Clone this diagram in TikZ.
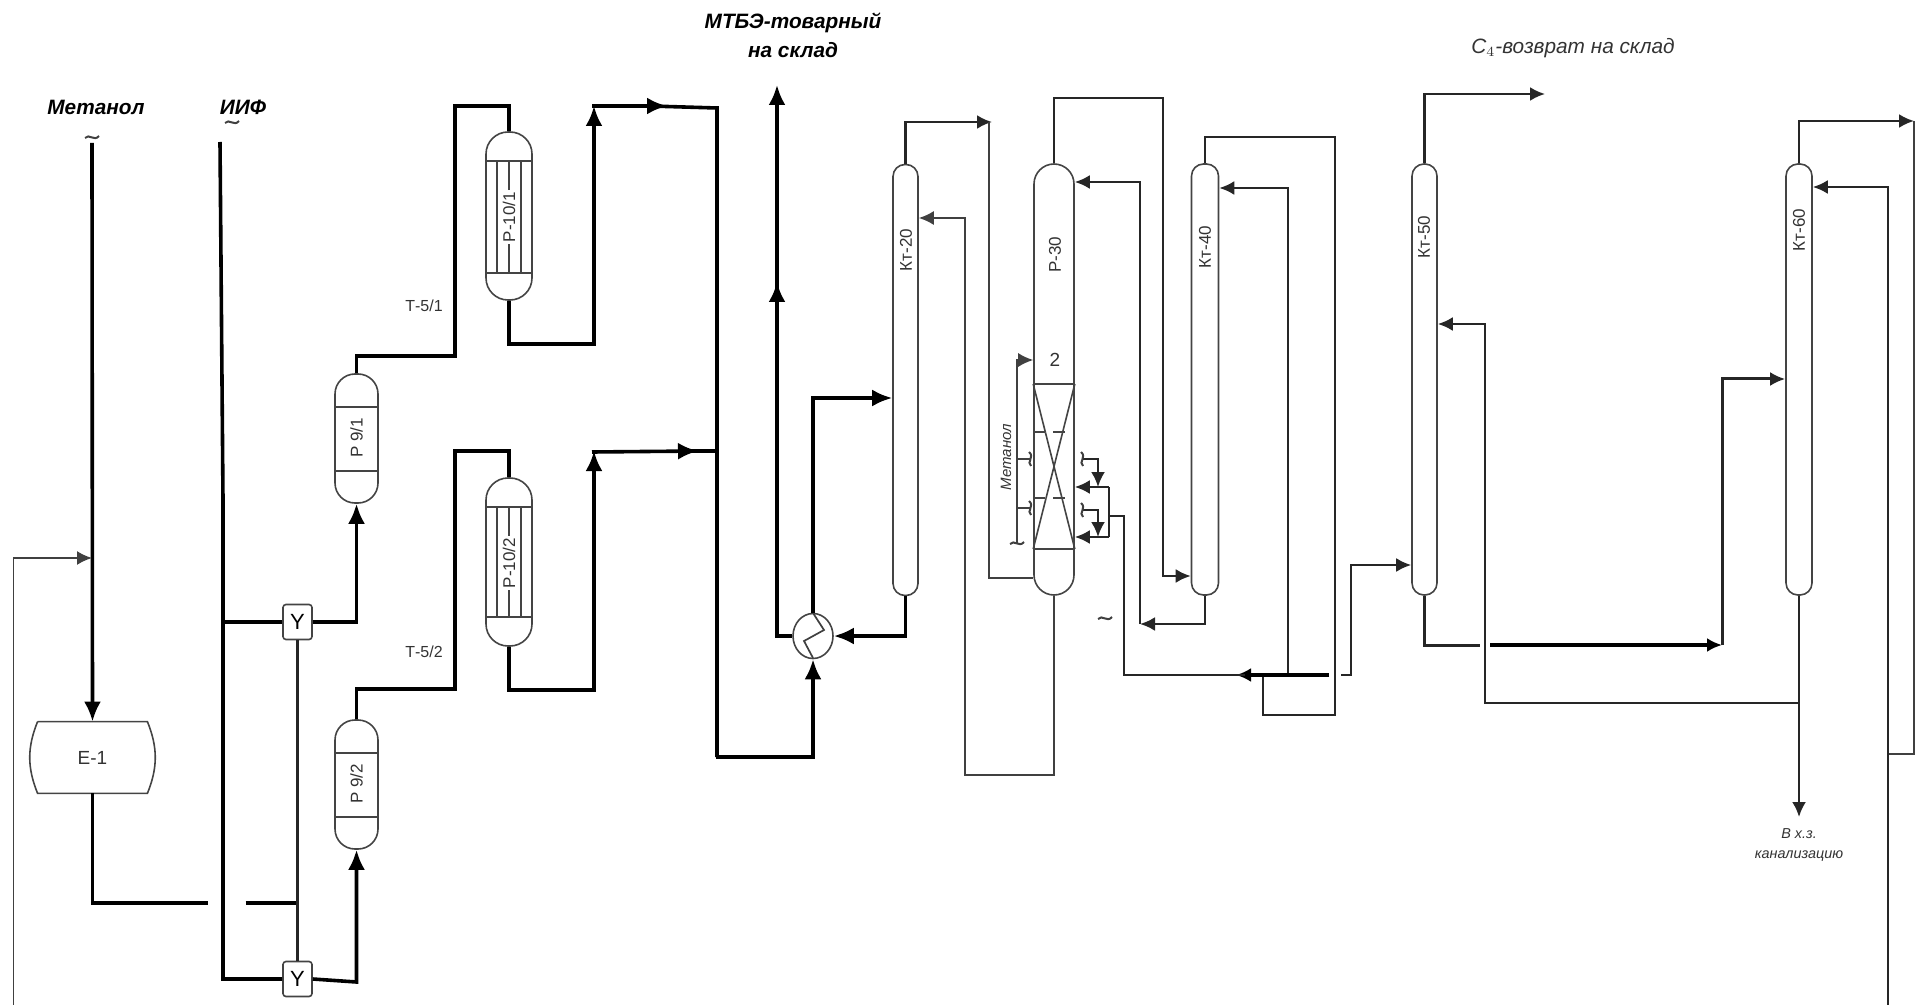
\documentclass[tikz,border=0pt]{standalone}
\usepackage{fontspec}
\setmainfont{Liberation Sans}
\usepackage{xcolor}
\usetikzlibrary{arrows.meta,shapes.geometric}
\definecolor{Ves}{HTML}{444444}
\definecolor{Tx}{HTML}{333333}
\begin{document}
\begin{tikzpicture}[
 x=0.5pt,y=-0.5pt,
 hv/.style={line width=1.8pt,draw=black},
 md/.style={line width=1.2pt,draw=black!85},
 tn/.style={line width=0.85pt,draw=black!75},
 ah/.style={-{Latex[length=10pt,width=8.5pt]}},
 am/.style={-{Latex[length=7.5pt,width=7pt]}},
 ves/.style={draw=Ves,line width=0.8pt,inner sep=0pt,fill=white},
 col/.style={ves,minimum width=#1,minimum height=215.5pt,rounded corners=6pt},
 reac/.style={ves,minimum width=21.5pt,minimum height=64.5pt,rounded corners=10pt},
 tube/.style={ves,minimum width=23pt,minimum height=84pt,rounded corners=11pt},
 valve/.style={ves,minimum width=14.5pt,minimum height=17.5pt,rounded corners=1.5pt,font=\fontsize{11}{13}\selectfont},
 lbl/.style={text=Tx,inner sep=0pt,font=\fontsize{8.5}{10}\selectfont},
 vlbl/.style={lbl,rotate=90},
 head/.style={inner sep=0pt,align=center,font=\fontsize{10.4}{14.5}\selectfont\bfseries\itshape},
 note/.style={text=Tx,inner sep=0pt,align=center,font=\fontsize{10.4}{13}\selectfont\itshape},
 sq/.pic={\draw[tn,line width=1pt] (-7,1) .. controls (-3,-4) and (2,5) .. (7,-1);}
]
\useasboundingbox (0,0) rectangle (1915,1005);
\node[head] (metlbl) at (96,107) {Метанол};
\node[head] (iiflbl) at (243,107) {ИИФ};
\node[head] (mtbelbl) at (793,35) {МТБЭ-товарный\\на склад};
\node[note] (c4lbl) at (1573,48) {С$_4$-возврат на склад};
\node[inner sep=0pt,align=center,text=Tx,font=\fontsize{7.2}{10}\selectfont\itshape] (drainlbl) at (1799,845) {В х.з.\\канализацию};
\node[lbl,font=\fontsize{8}{10}\selectfont] (t51) at (424,306) {Т-5/1};
\node[lbl,font=\fontsize{8}{10}\selectfont] (t52) at (424,652) {Т-5/2};

\node[inner sep=0pt,minimum width=54.5pt,minimum height=35.5pt,lbl,font=\fontsize{9.5}{11}\selectfont] (e1) at (92.5,757.5) {Е-1};
\draw[ves,fill=none] (e1.north west)--(e1.north east) to[bend left=22] (e1.south east)--(e1.south west) to[bend left=22] (e1.north west);

\node[reac] (p91) at (356.5,438.5) {};
\node[reac] (p92) at (356.5,784.5) {};
\node[tube] (p101) at (509,216) {};
\node[tube] (p102) at (509,562) {};
\node[col=12.5pt] (kt20) at (905.5,380) {};
\node[col=20pt,rounded corners=10pt] (p30) at (1054,379.5) {};
\node[col=13.5pt] (kt40) at (1205,379.5) {};
\node[col=12.5pt] (kt50) at (1424.5,379.5) {};
\node[col=13pt] (kt60) at (1799,379.5) {};
\node[ves,ellipse,minimum width=20pt,minimum height=22.5pt] (hx) at (813,636) {};

\foreach \n/\a/\b in {p91/407/471,p92/753/817,p101/161/273,p102/507/617}
 \draw[ves] (\n.west |- 0,\a)--(\n.east |- 0,\a) (\n.west |- 0,\b)--(\n.east |- 0,\b);
\foreach \n/\a/\b in {p101/161/273,p102/507/617}
 \foreach \x in {497,509,521}
  \draw[ves] (\x,\a)--(\x,\b);
\draw[tn] (813,613)--(824,630)--(804,641)--(813,658);

\node[vlbl] (p91t) at (356.5,438) {Р 9/1};
\node[vlbl] (p92t) at (356.5,784) {Р 9/2};
\node[vlbl,fill=white,inner sep=1pt] (p101t) at (509,217) {Р-10/1};
\node[vlbl,fill=white,inner sep=1pt] (p102t) at (509,563) {Р-10/2};
\node[vlbl] (kt20t) at (906,250) {Кт-20};
\node[vlbl] (p30t) at (1055,255) {Р-30};
\node[vlbl] (kt40t) at (1205,247) {Кт-40};
\node[vlbl] (kt50t) at (1424,237) {Кт-50};
\node[vlbl] (kt60t) at (1799,230) {Кт-60};
\node[lbl,font=\fontsize{9.5}{11}\selectfont] (cat2) at (1055,360) {2};

\draw[ves] (p30.west |- 0,384)--(p30.east |- 0,384) (p30.west |- 0,549)--(p30.east |- 0,549);
\draw[ves] (p30.west |- 0,384)--(p30.east |- 0,549) (p30.east |- 0,384)--(p30.west |- 0,549);
\draw[ves,dash pattern=on 6pt off 4pt] (p30.west |- 0,432)--(p30.east |- 0,432) (p30.west |- 0,498)--(p30.east |- 0,498);

\node[valve] (y1) at (297.5,622) {Y};
\node[valve] (y2) at (297.5,979) {Y};

\coordinate (metin) at (92,143);
\coordinate (iifin) at (220,142);
\coordinate (recin) at (13.5,1005);
\draw[hv,ah] (metin)--(e1.north);
\draw[tn,am] (recin) |- (92,558);
\draw[hv] (e1.south) |- (208,903);
\draw[hv] (245.5,903)--(y1.south |- 0,903);
\draw[hv] (iifin)--(223,500)--(223,979)--(y2.west);
\draw[hv] (223,622)--(y1.west);
\draw[md,line width=1.4pt] (y1.south)--(y2.north);
\draw[hv,ah] (y1.east) -| (p91.south);
\draw[hv,ah] (y2.east)--(356.5,982)--(p92.south);

\draw[hv] (p91.north) |- (455,356) |- (509,106)--(p101.north);
\draw[hv] (p92.north) |- (455,689) |- (509,451)--(p102.north);
\draw[hv,ah] (p101.south) |- (594,344)--(594,106);
\draw[hv,ah] (592,106)--(667,106);
\draw[hv] (650,106)--(717,108)--(717,757);
\draw[hv,ah] (p102.south) |- (594,690)--(594,451);
\draw[hv,ah] (592,452)--(698,451);
\draw[hv] (680,451)--(717,451);
\draw[hv,ah] (716,757) -| (hx.south);
\draw[hv,ah] (kt20.south) |- (hx.east);
\draw[hv,ah] (hx.west)--(777,636)--(777,282);
\draw[hv,ah] (777,295)--(777,85);
\draw[hv,ah] (hx.north) |- (kt20.west |- 0,398);

\draw[md,am] (kt20.north) |- (992,122);
\draw[tn] (989,122)--(989,578)--(p30.west |- 0,578);
\draw[tn,am] (p30.south) |- (965,775) |- (kt20.east |- 0,218);
\draw[md,am] (p30.north) |- (1163,98) |- (kt40.west |- 0,576);
\draw[md] (kt40.north) |- (1335,137) |- (1263,715)--(1263,675);
\draw[md,am] (kt40.south) |- (1140,624);
\draw[md,am] (1140,624) |- (p30.east |- 0,182);
\draw[md,am] (1288,675) |- (kt40.east |- 0,188);
\draw[hv,am] (1329,675)--(1236,675);
\draw[md] (1245,675)--(1124,675)--(1124,516)--(1109,516);
\draw[md,am] (1341,675)--(1351,675) |- (kt50.west |- 0,565);

\draw[md] (1109,487)--(1109,537);
\draw[md,am] (1109,487)--(p30.east |- 0,487);
\draw[md,am] (1109,537)--(p30.east |- 0,537);
\coordinate (feeda) at (1082,459);
\coordinate (feedb) at (1082,510);
\draw[md,am] (feeda)--(1098,459)--(1098,487);
\draw[md,am] (feedb)--(1098,510)--(1098,537);
\pic[rotate=90] at (feeda) {sq};
\pic[rotate=90] at (feedb) {sq};

\coordinate (mein) at (1017,543);
\draw[tn,am] (mein)--(1017,360)--(p30.west |- 0,360);
\coordinate (mea) at (1030,459);
\coordinate (meb) at (1030,508);
\draw[tn] (1017,459)--(mea) (1017,508)--(meb);
\pic[rotate=90] at (mea) {sq};
\pic[rotate=90] at (meb) {sq};
\pic at (mein) {sq};
\pic at (92,137) {sq};
\pic at (232,122) {sq};
\pic at (1105,618) {sq};
\node[vlbl,font=\fontsize{7.5}{10}\selectfont\itshape] (metv) at (1006,457) {Метанол};

\draw[md,am] (kt50.north) |- (1545,94);
\draw[md,am] (1799,703)--(1485,703) |- (kt50.east |- 0,324);
\draw[md,line width=1.5pt] (kt50.south) |- (1480,645);
\draw[hv,am] (1490,645)--(1722,645);
\draw[md,am,line width=1.5pt] (1722,645) |- (kt60.west |- 0,379);
\draw[md,am] (kt60.south)--(1799,817);
\draw[md,am] (kt60.north) |- (1914,121);
\draw[tn] (1914,121)--(1914,754)--(1888,754);
\coordinate (retin) at (1888,1005);
\draw[md,am] (retin) |- (kt60.east |- 0,187);
\end{tikzpicture}
\end{document}
